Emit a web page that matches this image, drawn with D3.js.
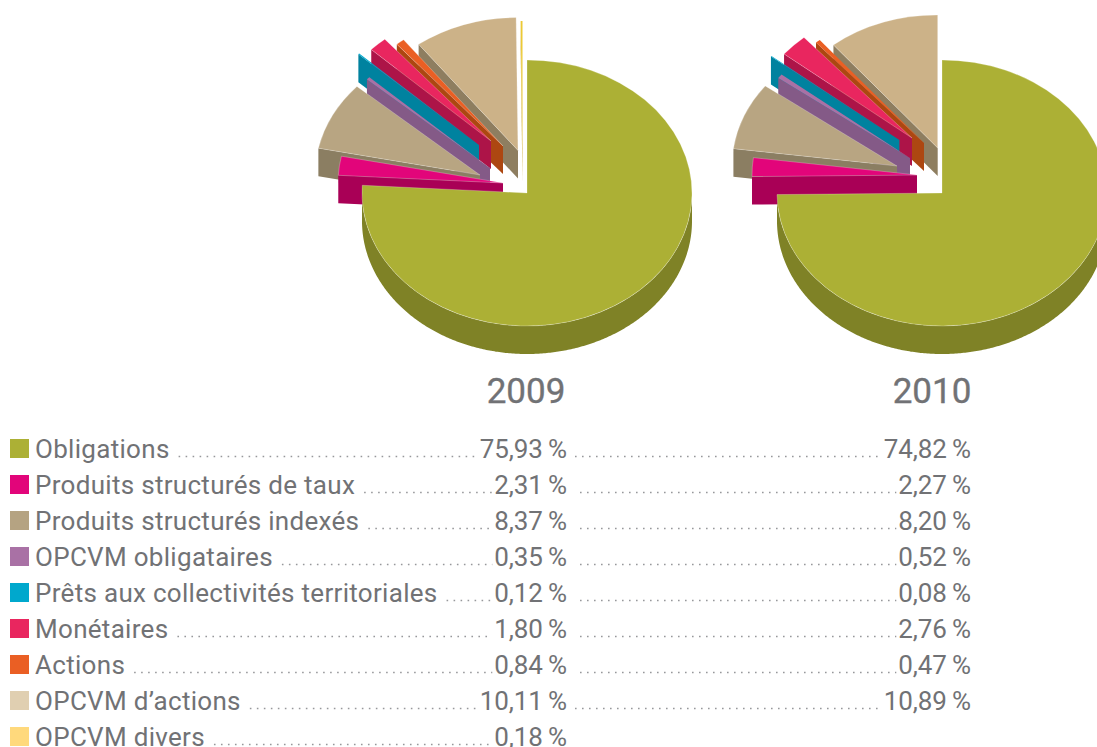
<!DOCTYPE html>
<html>
<head>
<meta charset="utf-8">
<style>
html, body { margin: 0; background: #fff; overflow: hidden; }
svg { display: block; }
text { font-family: Roboto, sans-serif; fill: #717275; }
.label { font-size: 26px; letter-spacing: 0.3px; }
.value { font-size: 26px; letter-spacing: -0.1px; }
.year { font-size: 35px; stroke: #717275; stroke-width: 0.35px; }
.leader { stroke: #97989b; stroke-width: 1.6; stroke-dasharray: 1.6 5.4; fill: none; }
</style>
<script src="https://d3js.org/d3.v7.min.js"></script>
</head>
<body>
<script>
var categories = ["Obligations", "Produits structurés de taux", "Produits structurés indexés", "OPCVM obligataires",
  "Prêts aux collectivités territoriales", "Monétaires", "Actions", "OPCVM d’actions", "OPCVM divers"];
var years = ["2009", "2010"];
var values2009 = [75.93, 2.31, 8.37, 0.35, 0.12, 1.80, 0.84, 10.11, 0.18];
var values2010 = [74.82, 2.27, 8.20, 0.52, 0.08, 2.76, 0.47, 10.89, null];

// colours: legend swatch, top of the slice, side of the slice
var legendColors = ["#acb035", "#e2057a", "#b5a382", "#a971a5", "#00a8cd", "#e9265f", "#ea5f24", "#e0cfb1", "#ffd97c"];
var topColors = ["#acb035", "#e2057a", "#b8a582", "#a971a5", "#00a8cd", "#e9265f", "#ea5f24", "#ccb288", "#ecc935"];
var sideColors = ["#7f8226", "#a90056", "#8b7e62", "#845a87", "#00829f", "#ad1448", "#ad4711", "#8e7e60", "#c9a52c"];

// how far each slice was pulled out of the pie, in px
var pullX2009 = [0, -24, -47, -37, -48, -36, -24, -9, -4.5];
var pullY2009 = [0, -10, -18, -25, -48, -52, -47, -42.5, -39];
var pullX2010 = [0, -25, -45, -32, -42.6, -30, -18, -4.3, 0];
var pullY2010 = [0, -18, -27, -35, -53, -55, -50, -45, 0];

var width = 1097, height = 747;
var rx = 165, ry = 133, depth = 28;
var cy = 193;
var svg = d3.select("body").append("svg").attr("width", width).attr("height", height);

var pie = d3.pie().sort(null).value(function(d) { return d || 0; });
var arc = d3.arc().innerRadius(0).outerRadius(rx);

function drawPie(cx, values, pullX, pullY) {
  var g = svg.append("g");
  var slices = pie(values).map(function(s, i) {
    s.i = i;
    return s;
  }).filter(function(s) { return s.value; });

  // back slices first, Obligations last
  slices.reverse().forEach(function(s) {
    var x0 = cx + pullX[s.i], y0 = cy + pullY[s.i];
    var pt = function(a) {
      var p = d3.pointRadial(a, rx);
      return [x0 + p[0], y0 + p[1] * ry / rx];
    };

    // straight side along the first edge of the slice
    if (Math.sin(s.startAngle) < -0.01) {
      var e = pt(s.startAngle);
      g.append("path")
        .attr("d", d3.line()([[x0, y0], e, [e[0], e[1] + depth], [x0, y0 + depth]]) + "Z")
        .attr("fill", sideColors[s.i]);
    }

    // rounded side, only the front half of the rim shows
    var a0 = Math.max(s.startAngle, Math.PI / 2), a1 = Math.min(s.endAngle, Math.PI * 1.5);
    if (a1 > a0) {
      var rim = d3.range(a0, a1, 0.01).concat([a1]).map(pt);
      var low = rim.map(function(p) { return [p[0], p[1] + depth]; }).reverse();
      g.append("path")
        .attr("d", d3.line()(rim.concat(low)) + "Z")
        .attr("fill", sideColors[s.i]);
    }

    // top of the slice, the pale edge would wash out the very thin ones
    g.append("path")
      .attr("d", arc(s))
      .attr("transform", "translate(" + x0 + "," + y0 + ") scale(1," + (ry / rx) + ")")
      .attr("fill", topColors[s.i])
      .attr("stroke", s.value < 0.6 ? "none" : "#fff")
      .attr("stroke-opacity", 0.35)
      .attr("stroke-width", 0.7)
      .attr("vector-effect", "non-scaling-stroke");
  });
}

drawPie(527, values2009, pullX2009, pullY2009);
drawPie(942, values2010, pullX2010, pullY2010);

// years
svg.append("text").attr("class", "year").attr("x", 526).attr("y", 403).attr("text-anchor", "middle").text(years[0]);
svg.append("text").attr("class", "year").attr("x", 932).attr("y", 403).attr("text-anchor", "middle").text(years[1]);

// legend table, 36px rows
var rowY = d3.scaleBand().domain(categories).range([422, 746]);
var end2009 = 567, end2010 = 971;
var fmt = function(v) { return v.toFixed(2).replace(".", ",") + "\u2009%"; };

categories.forEach(function(name, i) {
  var y = rowY(name) + 36;
  svg.append("rect").attr("x", 10).attr("y", y - 19).attr("width", 19).attr("height", 19).attr("fill", legendColors[i]);
  var label = svg.append("text").attr("class", "label").attr("x", 35).attr("y", y).text(name);
  var labelEnd = 35 + label.node().getComputedTextLength();

  var v1 = svg.append("text").attr("class", "value").attr("x", end2009).attr("y", y).attr("text-anchor", "end").text(fmt(values2009[i]));
  var start1 = end2009 - v1.node().getComputedTextLength();
  svg.append("line").attr("class", "leader").attr("x1", labelEnd + 9).attr("x2", start1 - 2).attr("y1", y - 1.5).attr("y2", y - 1.5);

  if (values2010[i] != null) {
    var v2 = svg.append("text").attr("class", "value").attr("x", end2010).attr("y", y).attr("text-anchor", "end").text(fmt(values2010[i]));
    var start2 = end2010 - v2.node().getComputedTextLength();
    svg.append("line").attr("class", "leader").attr("x1", values2009[i] >= 10 ? 575 : 580).attr("x2", start2 - 2).attr("y1", y - 1.5).attr("y2", y - 1.5);
  }
});
</script>
</body>
</html>
